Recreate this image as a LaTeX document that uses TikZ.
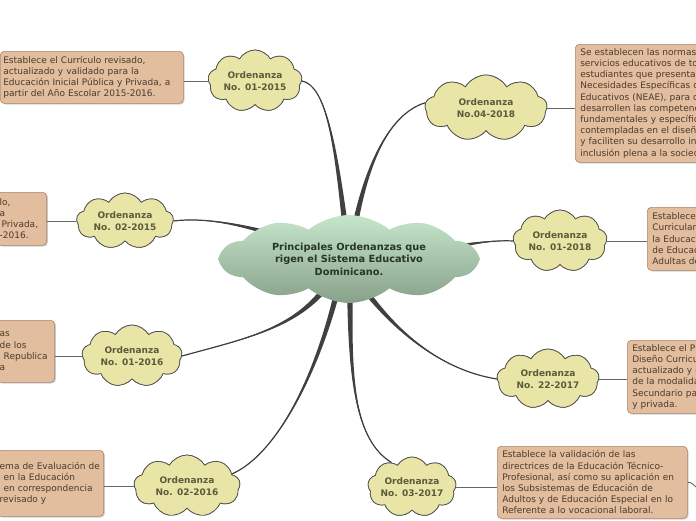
\documentclass[tikz,border=0pt]{standalone}
\usepackage{fontspec}
\setmainfont{DejaVu Sans}
\usetikzlibrary{shapes.symbols,shadows,calc}
\definecolor{boxfill}{HTML}{E2BE9E}
\definecolor{boxdraw}{HTML}{A7866E}
\definecolor{boxtext}{HTML}{4A3B2E}
\definecolor{cloudfill}{HTML}{E9E5A7}
\definecolor{cloudtext}{HTML}{5C5A3A}
\definecolor{conncol}{HTML}{404040}
\definecolor{thincol}{HTML}{666666}
\definecolor{ctop}{HTML}{C6E6CA}
\definecolor{cbot}{HTML}{88A18A}
\definecolor{centtext}{HTML}{263626}
\tikzset{
  ycloud/.style={cloud, cloud puffs=9, cloud puff arc=120, cloud ignores aspect,
    draw=black!70, line width=0.7pt, fill=cloudfill,
    font=\fontsize{9}{11.5}\selectfont\bfseries, text=cloudtext, align=center, inner sep=0pt},
  ccloud/.style={cloud, cloud puffs=10, cloud puff arc=80, cloud ignores aspect,
    top color=ctop, bottom color=cbot, draw=none,
    font=\fontsize{9.8}{12.5}\selectfont\bfseries, text=centtext, align=center, inner sep=0pt},
  tbox/.style={rectangle, rounded corners=4pt, draw=boxdraw, line width=0.6pt, fill=boxfill,
    drop shadow={shadow xshift=1.2pt, shadow yshift=-1.2pt, opacity=0.35},
    font=\fontsize{9}{11.2}\selectfont, text=boxtext, align=left, inner xsep=3pt, inner ysep=3pt},
  conn/.style={fill=conncol},
  connline/.style={draw=conncol, line width=1.2pt},
  thinline/.style={draw=thincol, line width=0.9pt},
}
\newcommand{\taperconn}[5]{%
  \fill[conn] ($(#1)+(#5)$) .. controls ($(#2)+0.45*(#5)$) and (#3) .. (#4)
     .. controls (#3) and ($(#2)-0.45*(#5)$) .. ($(#1)-(#5)$) -- cycle;
  \draw[connline] (#1) .. controls (#2) and (#3) .. (#4);}
\begin{document}
\begin{tikzpicture}[x=1pt,y=-1pt]
\useasboundingbox (0,0) rectangle (696,520);
\clip (0,0) rectangle (696,520);

% yellow clouds (positions first, drawn again on top later)
\path node[ycloud, minimum width=94pt, minimum height=62pt] (o0115) at (255,81) {Ordenanza\\No. 01-2015}
      node[ycloud, minimum width=122pt, minimum height=66pt] (o0418) at (486,108) {Ordenanza\\No.04-2018}
      node[ycloud, minimum width=97pt, minimum height=56pt] (o0215) at (125,221) {Ordenanza\\No. 02-2015}
      node[ycloud, minimum width=94pt, minimum height=62pt] (o0118) at (560,241) {Ordenanza\\No. 01-2018}
      node[ycloud, minimum width=100pt, minimum height=62pt] (o0116) at (132,356) {Ordenanza\\No. 01-2016}
      node[ycloud, minimum width=102pt, minimum height=60pt] (o2217) at (548,379) {Ordenanza\\No. 22-2017}
      node[ycloud, minimum width=106pt, minimum height=62pt] (o0216) at (187,486) {Ordenanza\\No. 02-2016}
      node[ycloud, minimum width=88pt, minimum height=60pt] (o0317) at (412,487) {Ordenanza\\No. 03-2017};

\coordinate (ctrpos) at (349,259);
\coordinate (s1) at ($(ctrpos)+(-4,-34)$);
\coordinate (s2) at ($(ctrpos)+(6,-34)$);
\coordinate (s3) at ($(ctrpos)+(-64,-21)$);
\coordinate (s4) at ($(ctrpos)+(91,-9)$);
\coordinate (s5) at ($(ctrpos)+(-27,33)$);
\coordinate (s6) at ($(ctrpos)+(-12,33)$);
\coordinate (s7) at ($(ctrpos)+(1,36)$);
\coordinate (s8) at ($(ctrpos)+(16,31)$);

% tapered connectors
\taperconn{s1}{335,140}{325,85}{o0115.east}{2.8,0}
\taperconn{s2}{370,150}{395,112}{o0418.175}{2.8,0}
\taperconn{s3}{245,225}{205,217}{o0215.east}{0,2.8}
\taperconn{s4}{470,243}{495,240}{o0118.west}{0,2.8}
\taperconn{s5}{290,330}{240,340}{o0116.east}{2.1,1.8}
\taperconn{s6}{315,380}{275,455}{o0216.15}{2.7,0.6}
\taperconn{s7}{350,380}{355,440}{o0317.130}{2.8,0}
\taperconn{s8}{395,330}{440,370}{o2217.west}{2.2,-1.7}

% central cloud
\node[ccloud, minimum width=256pt, minimum height=88pt] (ctr) at (ctrpos)
  {Principales Ordenanzas que\\rigen el Sistema Educativo\\Dominicano.};

% yellow clouds drawn on top of the connectors
\node[ycloud, minimum width=94pt, minimum height=62pt] at (o0115.center) {Ordenanza\\No. 01-2015};
\node[ycloud, minimum width=122pt, minimum height=66pt] at (o0418.center) {Ordenanza\\No.04-2018};
\node[ycloud, minimum width=97pt, minimum height=56pt] at (o0215.center) {Ordenanza\\No. 02-2015};
\node[ycloud, minimum width=94pt, minimum height=62pt] at (o0118.center) {Ordenanza\\No. 01-2018};
\node[ycloud, minimum width=100pt, minimum height=62pt] at (o0116.center) {Ordenanza\\No. 01-2016};
\node[ycloud, minimum width=102pt, minimum height=60pt] at (o2217.center) {Ordenanza\\No. 22-2017};
\node[ycloud, minimum width=106pt, minimum height=62pt] at (o0216.center) {Ordenanza\\No. 02-2016};
\node[ycloud, minimum width=88pt, minimum height=60pt] at (o0317.center) {Ordenanza\\No. 03-2017};

% text boxes
\node[tbox, anchor=north west, text width=177pt, minimum height=52pt] (bA) at (0,51)
  {Establece el Currículo revisado,\\actualizado y validado para la\\Educación Inicial Pública y Privada, a\\partir del Año Escolar 2015-2016.};
\node[tbox, anchor=north west, text width=220pt, minimum height=118pt, inner xsep=5pt] (bB) at (575,44)
  {Se establecen las normas\\servicios educativos de todos\\estudiantes que presentan\\Necesidades Específicas de\\Educativos (NEAE), para que\\desarrollen las competencias\\fundamentales y específicas\\contempladas en el diseño\\y faciliten su desarrollo integral\\inclusión plena a la sociedad.};
\node[tbox, anchor=north east, text width=44pt, minimum height=53pt] (bC) at (47,192)
  {lo,\\a\\\hspace*{2pt}Privada,\\-2016.};
\node[tbox, anchor=north west, text width=120pt, minimum height=63pt, inner xsep=5pt] (bD) at (647,207)
  {Establece\\Curricular\\la Educación\\de Educación\\Adultas de};
\node[tbox, anchor=north east, text width=52pt, minimum height=62pt] (bE) at (55,320)
  {as\\de los\\\hspace*{4pt}Republica\\a};
\node[tbox, anchor=north west, text width=120pt, minimum height=73pt, inner xsep=5pt] (bF) at (627,340)
  {Establece el Proceso\\Diseño Curricular\\actualizado y evaluado\\de la modalidad\\Secundario para\\y privada.};
\node[tbox, anchor=north east, text width=101pt, minimum height=66pt] (bG) at (104,450)
  {ema de Evaluación de\\\hspace*{4pt}en la Educación\\\hspace*{4pt}en correspondencia\\revisado y};
\node[tbox, anchor=north west, text width=180pt, minimum height=72pt, inner xsep=5pt] (bH) at (497,446)
  {Establece la validación de las\\directrices de la Educación Técnico-\\Profesional, así como su aplicación en\\los Subsistemas de Educación de\\Adultos y de Educación Especial en lo\\Referente a lo vocacional laboral.};

% thin connectors cloud -> box
\draw[thinline] (o0115.west) -- (o0115.west -| bA.east);
\draw[thinline] (o0418.east) -- (o0418.east -| bB.west);
\draw[thinline] (o0215.west) -- (o0215.west -| bC.east);
\draw[thinline] (o0118.east) -- (o0118.east -| bD.west);
\draw[thinline] (o0116.west) -- (o0116.west -| bE.east);
\draw[thinline] (o2217.east) -- (o2217.east -| bF.west);
\draw[thinline] (o0216.west) -- (o0216.west -| bG.east);
\draw[thinline] (o0317.east) -- (o0317.east -| bH.west);
\coordinate (hx) at (706,500);
\draw[thinline] (bH.east) .. controls (690,481) and (697,486) .. (hx);
\end{tikzpicture}
\end{document}
